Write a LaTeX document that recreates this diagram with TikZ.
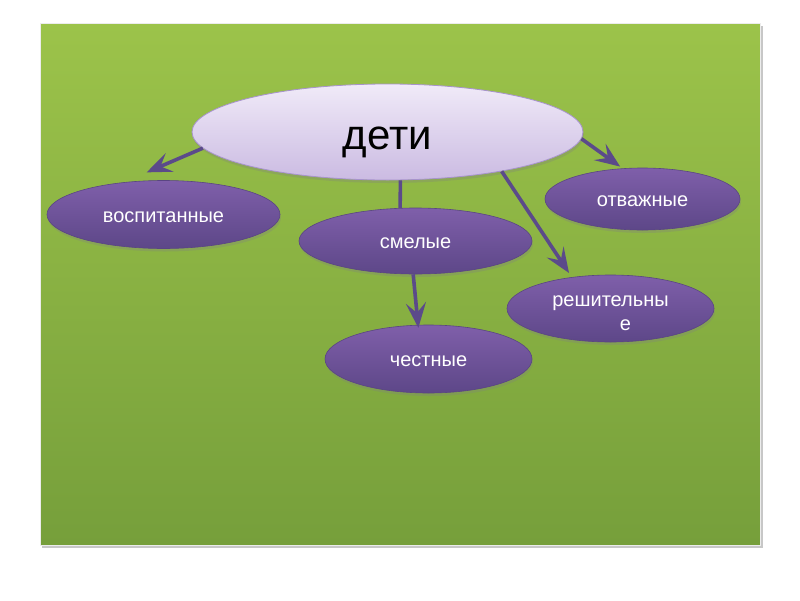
\documentclass[tikz,border=0pt]{standalone}
\usepackage{fontspec}
\setmainfont{Liberation Sans}
\usetikzlibrary{arrows.meta,shapes.geometric,shadows}

\definecolor{leafTop}{HTML}{9CC34A}
\definecolor{leafBot}{HTML}{769F3B}
\definecolor{violetTop}{HTML}{7F5FAA}
\definecolor{violetBot}{HTML}{5D4788}
\definecolor{violetEdge}{HTML}{5A4583}
\definecolor{lilacTop}{HTML}{F0EAF8}
\definecolor{lilacBot}{HTML}{CBBBE2}
\definecolor{lilacEdge}{HTML}{A793CC}
\definecolor{linkViolet}{HTML}{5B4A8A}

\begin{document}
\begin{tikzpicture}[x=1pt,y=-1pt,
    hub/.style={ellipse, draw=lilacEdge, line width=0.8pt,
        top color=lilacTop, bottom color=lilacBot, inner sep=0pt,
        font=\fontsize{42}{48}\selectfont, text height=44pt,
        drop shadow={shadow xshift=1pt, shadow yshift=-3pt, opacity=0.3}},
    bubble/.style={ellipse, draw=violetEdge, line width=0.6pt,
        top color=violetTop, bottom color=violetBot, text=white,
        inner sep=0pt, align=center, font=\fontsize{20}{24}\selectfont,
        text height=16pt,
        drop shadow={shadow xshift=1pt, shadow yshift=-3pt, opacity=0.3}},
    link/.style={draw=linkViolet, line width=3.6pt},
    arr/.style={link, -{Stealth[length=25pt,width=20pt,inset=10pt]}}]

% Page and slide
\fill[white] (0,0) rectangle (800,600);
\fill[black!22] (42,26) rectangle (763,548);
\shade[top color=leafTop, bottom color=leafBot] (40,23) rectangle (760,545);
\draw[white!85!gray, line width=0.8pt] (40,23) rectangle (760,545);

% Central node
\node[hub, minimum width=391pt, minimum height=96pt] (deti) at (387.5,132) {дети};

% Qualities
\node[bubble, minimum width=233pt, minimum height=68pt] (vosp) at (163.5,214.5) {воспитанные};
\node[bubble, minimum width=233pt, minimum height=66pt] (smel) at (415.5,241) {смелые};
\node[bubble, minimum width=195pt, minimum height=62pt] (otv) at (642.5,199) {отважные};
\node[bubble, minimum width=207pt, minimum height=67pt, text height=44pt] (resh)
    at (610.5,308.5) {решительны\\\hspace*{30pt}е};
\node[bubble, minimum width=207pt, minimum height=68pt] (chest) at (428.5,359) {честные};

% Connectors
\draw[arr, shorten >=25pt] (deti.185) -- (vosp.141);
\draw[arr, shorten >=3pt] (deti.358) -- (otv.123);
\draw[arr, shorten >=5pt] (deti.341) -- (resh.141);
\draw[link] (deti.285) -- (smel.115);
\draw[arr, shorten >=-3pt] (smel.266) -- (chest.107);

\end{tikzpicture}
\end{document}
